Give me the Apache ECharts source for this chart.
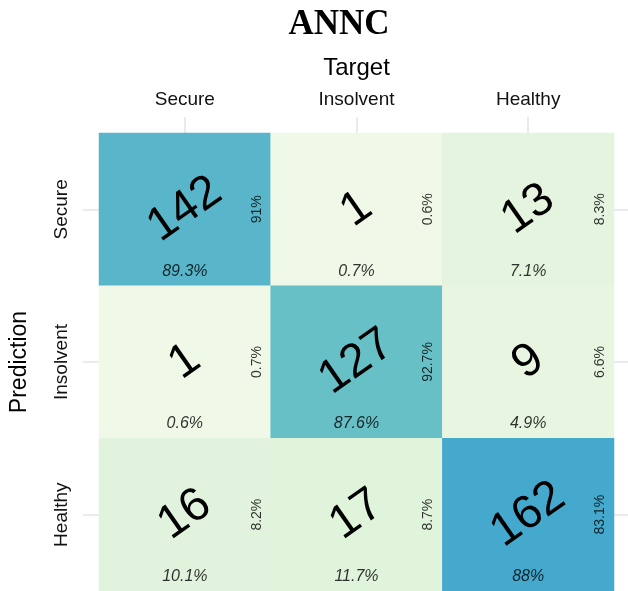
<!DOCTYPE html>
<html>
<head>
<meta charset="utf-8">
<script src="https://cdn.jsdelivr.net/npm/echarts@6/dist/echarts.min.js"></script>
<style>html,body{margin:0;padding:0;background:#fff;}#c{width:628px;height:591px;}</style>
</head>
<body>
<div id="c"></div>
<script>
const categories = ['Secure', 'Insolvent', 'Healthy'];
// rows = Prediction, columns = Target
const counts = [
  [142, 1, 13],
  [1, 127, 9],
  [16, 17, 162]
];
// share of the prediction row (right-side labels)
const rowPct = [
  [91, 0.6, 8.3],
  [0.7, 92.7, 6.6],
  [8.2, 8.7, 83.1]
];
// share of the target column (bottom labels)
const colPct = [
  [89.3, 0.7, 7.1],
  [0.6, 87.6, 4.9],
  [10.1, 11.7, 88]
];

const heatData = [], rightData = [], bottomData = [];
counts.forEach((row, r) => row.forEach((v, c) => {
  heatData.push([c, r, v]);
  rightData.push([c, r, rowPct[r][c]]);
  bottomData.push([c, r, colPct[r][c]]);
}));

const FONT = 'Liberation Sans';
const chart = echarts.init(document.getElementById('c'), null, {renderer: 'canvas'});
chart.setOption({
  animation: false,
  backgroundColor: '#ffffff',
  title: {
    text: 'ANNC', left: 334, top: 2, textAlign: 'center',
    textStyle: {fontFamily: 'Liberation Serif', fontWeight: 'bold', fontSize: 35, color: '#000'}
  },
  grid: {left: 98, right: 14, top: 133, bottom: 0},
  xAxis: {
    type: 'category', position: 'top', data: categories,
    name: 'Target', nameLocation: 'middle', nameGap: 53,
    nameTextStyle: {fontFamily: FONT, fontSize: 24, color: '#000'},
    axisLine: {show: false},
    axisTick: {show: true, alignWithLabel: true, length: 16, lineStyle: {color: '#ebebeb', width: 2}},
    axisLabel: {fontFamily: FONT, fontSize: 19, color: '#111', margin: 24},
    splitLine: {show: false}
  },
  yAxis: [{
    type: 'category', position: 'left', data: categories, inverse: true,
    name: 'Prediction', nameLocation: 'middle', nameGap: 68, nameRotate: 90,
    nameTextStyle: {fontFamily: FONT, fontSize: 23, color: '#000'},
    axisLine: {show: false},
    axisTick: {show: true, alignWithLabel: true, length: 16, lineStyle: {color: '#ebebeb', width: 2}},
    axisLabel: {fontFamily: FONT, fontSize: 19, color: '#111', rotate: 90, margin: 28},
    splitLine: {show: false}
  }, {
    type: 'category', position: 'right', data: categories, inverse: true,
    axisLine: {show: false},
    axisTick: {show: true, alignWithLabel: true, length: 14, lineStyle: {color: '#ebebeb', width: 2}},
    axisLabel: {show: false},
    splitLine: {show: false}
  }],
  visualMap: {
    show: false, seriesIndex: 0, dimension: 2, min: 1, max: 162,
    inRange: {color: ['#f0f9e8', '#bae4bc', '#7bccc4', '#45a9ce']}
  },
  series: [{
    type: 'heatmap', data: heatData, silent: true,
    label: {
      show: true, rotate: 35, fontFamily: FONT, fontSize: 47, color: '#000',
      formatter: p => String(p.value[2])
    }
  }, {
    type: 'scatter', data: rightData, symbolSize: 1, silent: true,
    itemStyle: {color: 'rgba(0,0,0,0)'},
    label: {
      show: true, position: 'inside', offset: [0, 72], rotate: 90,
      fontFamily: FONT, fontSize: 14, color: '#000',
      formatter: p => p.value[2] + '%'
    }
  }, {
    type: 'scatter', data: bottomData, symbolSize: 1, silent: true,
    itemStyle: {color: 'rgba(0,0,0,0)'},
    label: {
      show: true, position: 'inside', offset: [0, 62],
      fontFamily: FONT, fontSize: 16, fontStyle: 'italic', color: '#000',
      formatter: p => p.value[2] + '%'
    }
  }]
});
</script>
</body>
</html>
